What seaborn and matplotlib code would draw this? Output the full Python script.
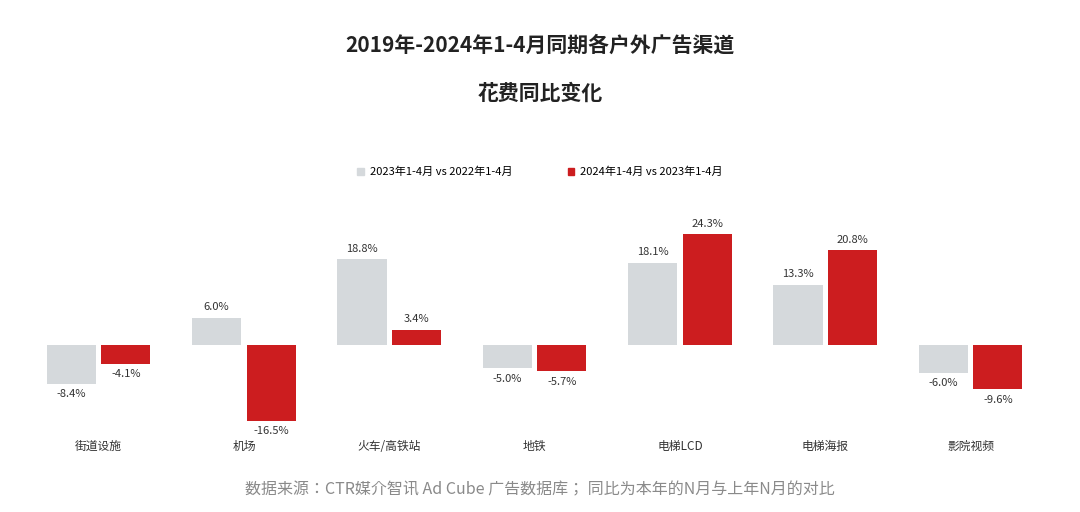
import matplotlib
matplotlib.use("Agg")
import matplotlib.pyplot as plt
from matplotlib import font_manager as fm
import seaborn as sns
import pandas as pd

categories = ["街道设施", "机场", "火车/高铁站", "地铁", "电梯LCD", "电梯海报", "影院视频"]
series_names = ["2023年1-4月 vs 2022年1-4月", "2024年1-4月 vs 2023年1-4月"]
s2023 = [-8.4, 6.0, 18.8, -5.0, 18.1, 13.3, -6.0]
s2024 = [-4.1, -16.5, 3.4, -5.7, 24.3, 20.8, -9.6]

cjk = None
for f in fm.fontManager.ttflist:
    if "CJK" in f.name and ("SC" in f.name or cjk is None):
        cjk = f.name
        if "SC" in f.name:
            break
if cjk is None:
    import glob
    for p in glob.glob("/usr/share/fonts/**/*CJK*", recursive=True):
        try:
            fm.fontManager.addfont(p)
        except Exception:
            pass
    for f in fm.fontManager.ttflist:
        if "CJK" in f.name:
            cjk = f.name
            break
fam = [cjk, "DejaVu Sans"] if cjk else ["DejaVu Sans"]
plt.rcParams["font.family"] = "sans-serif"
plt.rcParams["font.sans-serif"] = fam

df = pd.DataFrame({
    "cat": categories * 2,
    "series": [series_names[0]] * 7 + [series_names[1]] * 7,
    "val": s2023 + s2024,
})

fig = plt.figure(figsize=(10.8, 5.12), dpi=100)
ax = fig.add_axes([0.024, 0.16, 0.942, 0.40])
sns.barplot(data=df, x="cat", y="val", hue="series", order=categories,
            hue_order=series_names, palette=["#d5d9dc", "#cc1d1f"], saturation=1,
            width=0.75, gap=0.1, ax=ax, legend=False, errorbar=None)
ax.set_xlim(-0.5, 6.5)
ax.set_ylim(-18.6, 26.3)
for c in ax.containers:
    labels = [f"{v:.1f}%" for v in c.datavalues]
    ax.bar_label(c, labels=labels, padding=4, fontsize=8, color="#333333")
for s in ax.spines.values():
    s.set_visible(False)
ax.set_yticks([])
ax.set_xlabel(""); ax.set_ylabel("")
ax.tick_params(axis="x", length=0, labelsize=8.5, labelcolor="#333333")
ax.set_xticks(range(7))
ax.set_xticklabels(categories)
for lbl in ax.get_xticklabels():
    lbl.set_transform(ax.get_xaxis_transform())
    lbl.set_position((lbl.get_position()[0], -0.05))

fig.text(0.5, 1 - 45/512, "2019年-2024年1-4月同期各户外广告渠道", ha="center", va="center",
         fontsize=15, fontweight="bold", color="#222222")
fig.text(0.5, 1 - 93/512, "花费同比变化", ha="center", va="center",
         fontsize=15, fontweight="bold", color="#222222")
from matplotlib.patches import Patch
handles = [Patch(color="#d5d9dc"), Patch(color="#cc1d1f")]
fig.legend(handles, series_names, loc="center", bbox_to_anchor=(0.5, 1 - 172/512),
           ncol=2, frameon=False, fontsize=8, handlelength=0.6, handleheight=0.6,
           columnspacing=5, handletextpad=0.5)
fig.text(0.5, 1 - 490/512, "数据来源：CTR媒介智讯 Ad Cube 广告数据库； 同比为本年的N月与上年N月的对比",
         ha="center", va="center", fontsize=11.5, color="#8a8a8a")
fig.savefig("out.png", dpi=100, facecolor="white")
